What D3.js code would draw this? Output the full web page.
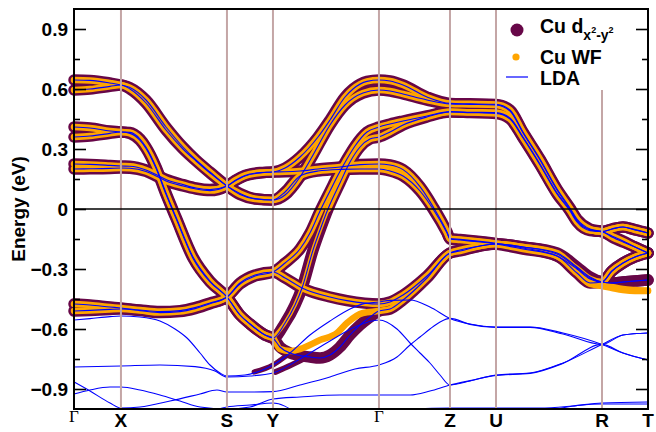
<!DOCTYPE html>
<html>
<head>
<meta charset="utf-8">
<script src="https://cdn.jsdelivr.net/npm/d3@7"></script>
<style>
  body { margin: 0; background: #fff; }
  svg { display: block; }
</style>
</head>
<body>
<div id="chart"></div>
<script>
// path through the zone, k distances of the high symmetry points
const kLabels = ["Γ", "X", "S", "Y", "Γ", "Z", "U", "R", "T"];
const kTicks = [0, 0.443, 1.443, 1.877, 2.877, 3.547, 3.981, 4.981, 5.415];
const yTicks = [-0.9, -0.6, -0.3, 0, 0.3, 0.6, 0.9];
const yMinor = [-0.75, -0.45, -0.15, 0.15, 0.45, 0.75];

// LDA bands carrying the Cu dx2-y2 weight, [k, E]
const band1 = [[0,0.645],[0.151,0.643],[0.340,0.63],[0.443,0.62],
  [0.528,0.607],[0.679,0.545],[0.868,0.41],[1.028,0.31],[1.151,0.245],[1.283,0.185],[1.443,0.115],
  [1.566,0.072],[1.708,0.05],[1.877,0.045],
  [1.991,0.07],[2.132,0.16],[2.255,0.27],[2.415,0.42],[2.557,0.52],[2.726,0.58],[2.877,0.595],
  [2.981,0.59],[3.104,0.575],[3.330,0.545],[3.547,0.525],[3.736,0.523],[3.981,0.52],
  [4.113,0.49],[4.236,0.38],[4.396,0.245],[4.557,0.095],[4.679,0.0],[4.745,-0.055],[4.868,-0.103],[4.981,-0.113],
  [5.075,-0.1],[5.179,-0.09],[5.292,-0.103],[5.415,-0.12]];
const band2 = [[0,0.595],[0.151,0.60],[0.340,0.613],[0.443,0.62],
  [0.528,0.60],[0.679,0.53],[0.868,0.395],[1.028,0.30],[1.151,0.24],[1.283,0.18],[1.443,0.115],
  [1.566,0.078],[1.708,0.052],[1.877,0.045],
  [1.991,0.085],[2.132,0.165],[2.302,0.19],[2.509,0.198],[2.698,0.2],[2.877,0.2],
  [2.981,0.19],[3.104,0.165],[3.264,0.09],[3.387,0.0],[3.519,-0.12],[3.547,-0.15],
  [3.642,-0.155],[3.830,-0.165],[3.981,-0.175],
  [4.236,-0.2],[4.557,-0.235],[4.745,-0.32],[4.868,-0.37],[4.981,-0.365],
  [5.075,-0.31],[5.179,-0.27],[5.292,-0.24],[5.415,-0.22]];
const band3 = [[0,0.41],[0.151,0.405],[0.340,0.39],[0.443,0.385],
  [0.528,0.383],[0.623,0.35],[0.679,0.31],[0.774,0.21],[0.868,0.08],[0.962,-0.04],[1.123,-0.24],[1.283,-0.36],[1.443,-0.44],
  [1.566,-0.53],[1.660,-0.575],[1.802,-0.63],[1.877,-0.645],
  [1.991,-0.57],[2.085,-0.48],[2.151,-0.395],[2.255,-0.205],[2.321,-0.105],[2.396,0.0],[2.509,0.13],[2.604,0.235],[2.698,0.31],[2.792,0.35],[2.877,0.36],
  [2.981,0.385],[3.104,0.42],[3.330,0.46],[3.547,0.485],[3.736,0.482],[3.981,0.478],
  [4.113,0.45],[4.236,0.355],[4.396,0.22],[4.557,0.075],[4.679,-0.01],[4.745,-0.065],[4.868,-0.108],[4.981,-0.113],
  [5.075,-0.14],[5.179,-0.165],[5.292,-0.19],[5.415,-0.22]];
const band4 = [[0,0.36],[0.151,0.365],[0.340,0.378],[0.443,0.385],
  [0.528,0.378],[0.623,0.343],[0.679,0.303],[0.774,0.203],[0.868,0.073],[0.962,-0.047],[1.123,-0.247],[1.283,-0.365],[1.443,-0.44],
  [1.566,-0.53],[1.660,-0.575],[1.802,-0.63],[1.877,-0.645],
  [1.943,-0.69],[2.038,-0.72],[2.226,-0.74],[2.321,-0.745],[2.415,-0.73],[2.509,-0.69],[2.604,-0.63],[2.698,-0.58],[2.792,-0.54],[2.877,-0.51],
  [2.981,-0.50],[3.104,-0.455],[3.330,-0.345],[3.547,-0.22],
  [3.642,-0.21],[3.830,-0.185],[3.981,-0.175],
  [4.236,-0.19],[4.557,-0.22],[4.745,-0.29],[4.868,-0.34],[4.981,-0.365],
  [5.075,-0.37],[5.179,-0.365],[5.292,-0.36],[5.415,-0.355]];
const band5 = [[0,0.225],[0.151,0.223],[0.340,0.218],[0.443,0.215],
  [0.528,0.214],[0.679,0.195],[0.774,0.172],[0.868,0.148],[1.028,0.122],[1.151,0.105],[1.283,0.097],[1.443,0.115],
  [1.519,0.143],[1.613,0.168],[1.755,0.182],[1.877,0.185],
  [1.991,0.205],[2.132,0.26],[2.302,0.36],[2.415,0.445],[2.557,0.56],[2.632,0.60],[2.764,0.638],[2.877,0.645],
  [2.981,0.64],[3.104,0.62],[3.330,0.56],[3.547,0.528],[3.736,0.526],[3.981,0.523],
  [4.113,0.495],[4.236,0.385],[4.396,0.25],[4.557,0.1],[4.679,0.005],[4.745,-0.05],[4.868,-0.1],[4.981,-0.113],
  [5.075,-0.135],[5.179,-0.16],[5.292,-0.19],[5.415,-0.22]];
const band6 = [[0,0.20],[0.151,0.201],[0.340,0.203],[0.443,0.205],
  [0.528,0.204],[0.679,0.188],[0.774,0.165],[0.868,0.14],[1.028,0.115],[1.151,0.1],[1.283,0.092],[1.443,0.115],
  [1.519,0.14],[1.613,0.165],[1.755,0.18],[1.877,0.185],
  [1.991,0.186],[2.132,0.19],[2.302,0.2],[2.509,0.21],[2.698,0.222],[2.877,0.225],
  [2.981,0.22],[3.104,0.197],[3.264,0.112],[3.387,0.012],[3.519,-0.115],[3.547,-0.148],
  [3.642,-0.152],[3.830,-0.162],[3.981,-0.172],
  [4.236,-0.195],[4.557,-0.235],[4.745,-0.3],[4.868,-0.35],[4.981,-0.365],
  [5.075,-0.31],[5.179,-0.27],[5.292,-0.24],[5.415,-0.22]];
const band7 = [[0,-0.475],[0.151,-0.48],[0.340,-0.49],[0.443,-0.495],
  [0.623,-0.505],[0.811,-0.513],[1.0,-0.508],[1.142,-0.493],[1.283,-0.47],[1.443,-0.44],
  [1.566,-0.375],[1.708,-0.335],[1.877,-0.315],
  [1.991,-0.27],[2.132,-0.2],[2.226,-0.12],[2.321,-0.01],[2.415,0.09],[2.491,0.17],[2.575,0.25],[2.651,0.315],[2.764,0.385],[2.877,0.41],
  [2.981,0.425],[3.104,0.44],[3.330,0.465],[3.547,0.487],[3.736,0.484],[3.981,0.482],
  [4.113,0.455],[4.236,0.36],[4.396,0.225],[4.557,0.08],[4.679,-0.005],[4.745,-0.06],[4.868,-0.105],[4.981,-0.113],
  [5.075,-0.1],[5.179,-0.09],[5.292,-0.105],[5.415,-0.12]];
const band8 = [[0,-0.51],[0.151,-0.507],[0.340,-0.502],[0.443,-0.50],
  [0.623,-0.508],[0.811,-0.518],[1.0,-0.513],[1.142,-0.498],[1.283,-0.474],[1.443,-0.44],
  [1.566,-0.37],[1.708,-0.33],[1.877,-0.315],
  [1.991,-0.345],[2.151,-0.395],[2.415,-0.44],[2.575,-0.458],[2.877,-0.475],
  [2.981,-0.465],[3.104,-0.43],[3.330,-0.335],[3.547,-0.22],
  [3.642,-0.205],[3.830,-0.185],[3.981,-0.175],
  [4.236,-0.19],[4.557,-0.225],[4.745,-0.295],[4.868,-0.345],[4.981,-0.365],
  [5.075,-0.37],[5.179,-0.365],[5.292,-0.36],[5.415,-0.355]];

// where the Wannier bands leave the LDA ones
const wfPatch4YG = [[1.943,-0.70],[2.038,-0.71],[2.132,-0.70],[2.321,-0.655],[2.481,-0.62],[2.575,-0.57],[2.726,-0.52]];
const wfPatch4RT = [[4.745,-0.31],[4.868,-0.375],[4.981,-0.385],[5.075,-0.395],[5.179,-0.405],[5.292,-0.41],[5.415,-0.41]];
const wfPatch8RT = [[4.745,-0.305],[4.868,-0.37],[4.981,-0.38],[5.075,-0.39],[5.179,-0.4],[5.292,-0.405],[5.415,-0.408]];
// stretch where the Wannier weight of band 3 is small
const wfThin3 = [1.877, 2.396];

// other LDA bands (no dx2-y2 weight)
const lda1 = [[0,-0.555],[0.151,-0.548],[0.340,-0.538],[0.443,-0.535],[0.623,-0.54],[0.811,-0.56],[0.953,-0.6],[1.066,-0.645],[1.189,-0.72],[1.283,-0.78],[1.377,-0.82],[1.443,-0.835],
  [1.613,-0.83],[1.755,-0.81],[1.877,-0.78],[2.038,-0.72],[2.226,-0.63],[2.415,-0.56],[2.604,-0.5],[2.745,-0.472],[2.877,-0.465],
  [2.981,-0.457],[3.170,-0.455],[3.358,-0.49],[3.547,-0.547],[3.736,-0.575],[3.981,-0.59],[4.302,-0.59],[4.613,-0.62],[4.981,-0.677],[5.179,-0.72],[5.415,-0.755]];
const lda2 = [[0,-0.79],[0.443,-0.785],[0.811,-0.78],[1.142,-0.788],[1.330,-0.81],[1.443,-0.84],
  [1.660,-0.835],[1.877,-0.82],[2.132,-0.75],[2.415,-0.66],[2.651,-0.59],[2.877,-0.555],
  [3.047,-0.6],[3.170,-0.67],[3.264,-0.72],[3.358,-0.77],[3.453,-0.83],[3.547,-0.88],[3.736,-0.86],[3.981,-0.83],[4.302,-0.82],[4.613,-0.77],[4.981,-0.677],[5.179,-0.63],[5.415,-0.62]];
const lda3 = [[0,-0.865],[0.151,-0.91],[0.340,-0.97],[0.443,-0.995],[0.623,-0.99],[0.906,-0.96],[1.189,-0.925],[1.349,-0.905],[1.443,-0.915],
  [1.660,-0.915],[1.877,-0.913],[2.132,-0.88],[2.415,-0.84],[2.651,-0.8],[2.877,-0.78],
  [3.047,-0.74],[3.170,-0.68],[3.264,-0.64],[3.358,-0.6],[3.453,-0.565],[3.547,-0.547],[3.736,-0.577],[3.981,-0.592],[4.302,-0.592],[4.613,-0.625],[4.981,-0.677],[5.179,-0.63],[5.415,-0.62]];
const lda4 = [[0,-0.925],[0.151,-0.905],[0.340,-0.89],[0.443,-0.89],[0.623,-0.905],[0.811,-0.93],[1.0,-0.96],[1.189,-0.99],[1.443,-1.0],
  [1.660,-0.99],[1.877,-0.95],[2.132,-0.94],[2.509,-0.93],[2.877,-0.93],
  [3.170,-0.93],[3.358,-0.91],[3.547,-0.88],[3.736,-0.858],[3.981,-0.832],[4.302,-0.822],[4.613,-0.772],[4.981,-0.677],[5.179,-0.72],[5.415,-0.755]];
const lda5 = [[2.9,-1.05],[3.2,-1.0],[3.547,-0.995],[3.981,-0.995],[4.396,-0.995],[4.7,-0.985],[4.981,-0.97],[5.415,-0.965]];
const lda6 = [[4.3,-1.04],[4.6,-0.995],[4.981,-0.975],[5.415,-0.975]];
const lda7 = [[1.2,-1.03],[1.443,-0.99],[1.660,-0.98],[1.877,-0.97],[2.1,-1.02]];

// pieces of the lower bands that still carry some dx2-y2 weight
const partial1 = [[1.70,-0.815],[1.877,-0.78],[2.0,-0.735]];
const partial2 = [[1.90,-0.815],[2.05,-0.78],[2.20,-0.74]];
const partialWeights = [0.45, 0.5];

const fatBands = [band1, band2, band3, band4, band5, band6, band7, band8];
const ldaOnly = [lda1, lda2, lda3, lda4, lda5, lda6, lda7];
const wfPatches = [
  {band: 3, from: 1.877, to: 2.877, pts: wfPatch4YG},
  {band: 3, from: 4.6, to: 5.5, pts: wfPatch4RT},
  {band: 7, from: 4.6, to: 5.5, pts: wfPatch8RT}
];

const W = 656, H = 432;
const plot = {left: 74, right: 648, top: 9, bottom: 409};
const maroon = "#670748", orange = "#ffa500", blue = "#0000ff";

const svg = d3.select("#chart").append("svg")
  .attr("width", W)
  .attr("height", H)
  .style("font-family", "'Liberation Sans', Arial, sans-serif");

const x = d3.scaleLinear().domain([kTicks[0], kTicks[kTicks.length - 1]]).range([plot.left, plot.right]);
const y = d3.scaleLinear().domain([-1, 1]).range([plot.bottom, plot.top]);
const size = d3.scaleLinear().domain([0, 1]).range([0, 11.5]);

const line = d3.line()
  .x(d => x(d[0]))
  .y(d => y(d[1]))
  .curve(d3.curveMonotoneX);

function patched(pts, p) {
  return pts.filter(d => d[0] <= p.from || d[0] >= p.to).concat(p.pts).sort((a, b) => a[0] - b[0]);
}
const wfBands = fatBands.map((b, i) => wfPatches.filter(p => p.band === i).reduce(patched, b));

// split band 3 so the thin stretch can get its own width
const wfPieces = [];
wfBands.forEach((b, i) => {
  if (i !== 2) { wfPieces.push({pts: b, w: 6.5}); return; }
  wfPieces.push({pts: b.filter(d => d[0] <= wfThin3[0]), w: 6.5});
  wfPieces.push({pts: b.filter(d => d[0] >= wfThin3[0] && d[0] <= wfThin3[1]), w: 4});
  wfPieces.push({pts: b.filter(d => d[0] >= wfThin3[1]), w: 6.5});
});

svg.append("defs").append("clipPath").attr("id", "clip")
  .append("rect")
  .attr("x", plot.left - 10).attr("y", plot.top)
  .attr("width", plot.right - plot.left + 20).attr("height", plot.bottom - plot.top);

const bands = svg.append("g").attr("clip-path", "url(#clip)")
  .attr("fill", "none")
  .attr("stroke-linecap", "round")
  .attr("stroke-linejoin", "round");

// Cu dx2-y2 weight
bands.append("g").selectAll("path")
  .data(fatBands)
  .join("path")
  .attr("d", line)
  .attr("stroke", maroon)
  .attr("stroke-width", size(1));

bands.append("g").selectAll("path")
  .data([partial1, partial2])
  .join("path")
  .attr("d", line)
  .attr("stroke", maroon)
  .attr("stroke-width", (d, i) => size(partialWeights[i]));

// Cu Wannier bands
bands.append("g").selectAll("path")
  .data(wfPieces)
  .join("path")
  .attr("d", d => line(d.pts))
  .attr("stroke", orange)
  .attr("stroke-width", d => d.w);

// LDA
bands.append("g").selectAll("path")
  .data(fatBands.concat(ldaOnly))
  .join("path")
  .attr("d", line)
  .attr("stroke", blue)
  .attr("stroke-width", 1.1);

// high symmetry lines
svg.append("g").selectAll("line")
  .data(kTicks.slice(1, -1))
  .join("line")
  .attr("x1", d => x(d)).attr("x2", d => x(d))
  .attr("y1", plot.top).attr("y2", plot.bottom)
  .attr("stroke", "#c4a6a6")
  .attr("stroke-width", 2);

// Fermi level
svg.append("line")
  .attr("x1", plot.left).attr("x2", plot.right)
  .attr("y1", y(0)).attr("y2", y(0))
  .attr("stroke", "black")
  .attr("stroke-width", 1.6);

// legend
svg.append("rect")
  .attr("x", 500).attr("y", plot.top + 1)
  .attr("width", 145).attr("height", 80)
  .attr("fill", "white");

const legend = svg.append("g").style("font-size", "19.5px").style("font-weight", "bold");
legend.append("circle").attr("cx", 517).attr("cy", 30).attr("r", 6.5).attr("fill", maroon);
legend.append("circle").attr("cx", 516).attr("cy", 57).attr("r", 3.6).attr("fill", orange);
legend.append("line").attr("x1", 506).attr("x2", 528).attr("y1", 77).attr("y2", 77)
  .attr("stroke", blue).attr("stroke-width", 1.2);

const t1 = legend.append("text").attr("x", 540).attr("y", 33).text("Cu d");
t1.append("tspan").attr("dy", 7).style("font-size", "14px").text("x");
t1.append("tspan").attr("dy", -7).style("font-size", "9px").text("2");
t1.append("tspan").attr("dy", 7).style("font-size", "14px").text("-y");
t1.append("tspan").attr("dy", -7).style("font-size", "9px").text("2");
legend.append("text").attr("x", 540).attr("y", 64).text("Cu WF");
legend.append("text").attr("x", 540).attr("y", 85).text("LDA");

// frame and axes
svg.append("rect")
  .attr("x", plot.left).attr("y", plot.top)
  .attr("width", plot.right - plot.left).attr("height", plot.bottom - plot.top)
  .attr("fill", "none")
  .attr("stroke", "black")
  .attr("stroke-width", 2);

const yAxis = svg.append("g")
  .attr("transform", `translate(${plot.left},0)`)
  .call(d3.axisLeft(y).tickValues(yTicks).tickSize(-12).tickPadding(6).tickFormat(d3.format(".1f")));
yAxis.select(".domain").remove();
yAxis.selectAll("line").attr("stroke-width", 1.6);
yAxis.selectAll("text")
  .style("font-size", "19px")
  .style("font-weight", "bold")
  .style("font-family", "'Liberation Sans', Arial, sans-serif")
  .text(d => d === 0 ? "0" : d3.format(".1f")(d));

svg.append("g")
  .attr("transform", `translate(${plot.left},0)`)
  .call(d3.axisLeft(y).tickValues(yMinor).tickSize(-6).tickFormat(""))
  .call(g => g.select(".domain").remove())
  .selectAll("line").attr("stroke-width", 1.6);

svg.append("g")
  .attr("transform", `translate(${plot.right},0)`)
  .call(d3.axisRight(y).tickValues(yTicks).tickSize(-12).tickFormat(""))
  .call(g => g.select(".domain").remove())
  .selectAll("line").attr("stroke-width", 1.6);

svg.append("g")
  .attr("transform", `translate(${plot.right},0)`)
  .call(d3.axisRight(y).tickValues(yMinor).tickSize(-6).tickFormat(""))
  .call(g => g.select(".domain").remove())
  .selectAll("line").attr("stroke-width", 1.6);

// k labels
svg.append("g").selectAll("text")
  .data(kTicks)
  .join("text")
  .attr("x", d => x(d))
  .attr("y", (d, i) => kLabels[i] === "Γ" ? 422 : 427)
  .attr("text-anchor", "middle")
  .style("font-family", (d, i) => kLabels[i] === "Γ" ? "'Liberation Serif', 'Times New Roman', serif" : null)
  .style("font-weight", (d, i) => kLabels[i] === "Γ" ? "normal" : "bold")
  .style("font-size", (d, i) => kLabels[i] === "Γ" ? "17px" : "19px")
  .text((d, i) => kLabels[i]);

svg.append("text")
  .attr("transform", `translate(25,${(plot.top + plot.bottom) / 2}) rotate(-90)`)
  .attr("text-anchor", "middle")
  .style("font-size", "19px")
  .style("font-weight", "bold")
  .text("Energy (eV)");
</script>
</body>
</html>
